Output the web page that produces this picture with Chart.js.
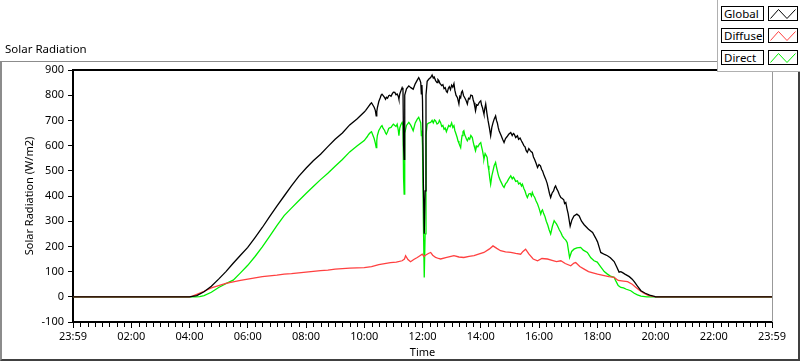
<!DOCTYPE html>
<html>
<head>
<meta charset="utf-8">
<script src="https://cdn.jsdelivr.net/npm/chart.js@4/dist/chart.umd.min.js"></script>
<style>
  html, body { margin: 0; padding: 0; background: #fff; }
  #wrap { position: relative; width: 800px; height: 361px; overflow: hidden; font-family: "Noto Sans", sans-serif; }
  #c { position: absolute; left: 0; top: 0; }
  #frame { position: absolute; left: 0; top: 61px; width: 800px; height: 300px; box-sizing: border-box;
           border-top: 1px solid #8c8c8c; border-left: 2px solid #8c8c8c; border-right: 2px solid #404040; border-bottom: 2px solid #404040; pointer-events: none; }
  #title { position: absolute; left: 5px; top: 41px; font-size: 11.5px; color: #000; }
  #legend { position: absolute; left: 717px; top: 0; width: 83px; height: 72px; background: #fff; box-sizing: border-box;
            border-left: 1px solid #b0b0b0; border-bottom: 1px solid #b0b0b0; }
  .lab { position: absolute; left: 3px; width: 43px; height: 15px; box-sizing: border-box; border: 1px solid #000;
         font-size: 11.5px; line-height: 13px; padding-left: 2px; color: #000; background: #fff; }
  .ico { position: absolute; left: 50px; width: 30px; height: 15px; box-sizing: border-box; border: 1px solid #000; background: #fff; }
  .ico svg { position: absolute; left: 0; top: 0; }
</style>
</head>
<body>
<div id="wrap">
  <canvas id="c" width="800" height="361"></canvas>
  <div id="frame"></div>
  <div id="title">Solar Radiation</div>
  <div id="legend"></div>
</div>
<script>
// ---- data (hours of day, W/m2) ----
const seriesNames = ['Global', 'Diffuse', 'Direct'];
const seriesColors = ['#000000', '#ff4040', '#00f000'];

const globalTimes = [0, 4.0, 4.25, 4.5, 4.75, 5.0, 5.25, 5.5, 5.75, 6.0, 6.25, 6.5, 6.75, 7.0, 7.25, 7.5, 7.75, 8.0, 8.25, 8.5, 8.75, 9.0, 9.25, 9.5, 9.75,
  10.0, 10.05, 10.1, 10.15, 10.21, 10.25, 10.3, 10.34, 10.38, 10.41, 10.43, 10.45, 10.5, 10.55, 10.58, 10.61, 10.65, 10.7, 10.73, 10.76, 10.8, 10.84, 10.87, 10.92, 10.96, 11.0, 11.05, 11.09, 11.13, 11.17, 11.19, 11.22, 11.26, 11.3, 11.33, 11.35, 11.37, 11.39,
  11.45, 11.53, 11.6, 11.68, 11.75, 11.82, 11.87, 11.91, 11.94, 11.96, 11.98, 12.0, 12.03, 12.06, 12.09, 12.12, 12.16, 12.22, 12.28,
  12.33, 12.37, 12.4, 12.45, 12.5, 12.53, 12.56, 12.6, 12.62, 12.66, 12.7, 12.74, 12.78, 12.82, 12.85, 12.89, 12.92, 12.96, 13.0, 13.04, 13.08, 13.11, 13.15, 13.2, 13.25, 13.28, 13.31, 13.34, 13.37, 13.41, 13.45, 13.5, 13.54, 13.58, 13.62, 13.66, 13.71, 13.74, 13.77, 13.8, 13.82, 13.86, 13.9, 13.95, 14.0, 14.03, 14.06, 14.09, 14.11, 14.14, 14.17, 14.21, 14.25, 14.3, 14.34, 14.38, 14.42, 14.46, 14.51, 14.54, 14.57, 14.6, 14.63, 14.67, 14.7, 14.75, 14.8, 14.85, 14.9, 14.96, 15.03, 15.08, 15.12, 15.15, 15.2, 15.26, 15.3, 15.35, 15.4, 15.43, 15.48, 15.52, 15.56, 15.6, 15.65, 15.7, 15.74, 15.77, 15.81, 15.85, 15.9, 15.95, 16.0, 16.05, 16.09, 16.12, 16.18, 16.23, 16.28, 16.32, 16.36, 16.4, 16.45, 16.5, 16.54, 16.57, 16.61, 16.65, 16.7, 16.75, 16.8, 16.85, 16.88, 16.92, 16.96,
  17.0, 17.07, 17.13, 17.2, 17.3, 17.38, 17.46, 17.55, 17.7, 17.84, 17.95, 18.01, 18.07, 18.12, 18.25, 18.35, 18.45, 18.58, 18.67, 18.75, 18.81, 18.87, 18.95, 19.1, 19.2, 19.27, 19.38, 19.5, 19.65, 19.8, 19.96, 20.0, 24.0];
const globalValues = [0, 0, 5, 20, 42, 70, 100, 133, 165, 196, 235, 275, 318, 360, 400, 440, 478, 510, 540, 566, 596, 625, 650, 682, 706,
  733, 740, 748, 756, 765, 770, 760, 752, 740, 718, 735, 750, 775, 790, 800, 804, 798, 790, 784, 792, 788, 798, 800, 796, 805, 812, 811, 802, 805, 795, 784, 805, 818, 830, 820, 600, 545, 800,
  825, 837, 830, 824, 845, 860, 870, 860, 850, 805, 840, 780, 450, 250, 420, 800, 855, 864, 870,
  880, 868, 872, 858, 850, 862, 858, 846, 844, 838, 842, 826, 830, 815, 811, 828, 834, 822, 840, 832, 846, 820, 800, 790, 765, 795, 790, 812, 817, 798, 790, 778, 765, 788, 785, 800, 798, 782, 770, 752, 738, 762, 760, 772, 778, 760, 750, 735, 725, 748, 765, 730, 700, 668, 639, 672, 690, 705, 718, 700, 690, 672, 659, 648, 640, 625, 612, 628, 635, 645, 652, 640, 648, 645, 632, 639, 625, 630, 618, 612, 600, 595, 580, 573, 588, 580, 575, 573, 555, 545, 530, 513, 525, 520, 505, 500, 480, 467, 450, 430, 410, 394, 412, 420, 435, 440, 428, 420, 405, 394, 390, 385, 370, 374, 350,
  330, 280, 305, 321, 328, 321, 300, 286, 268, 255, 232, 218, 195, 176, 168, 163, 155, 140, 118, 98, 100, 96, 90, 80, 70, 60, 42, 24, 14, 7, 2, 0, 0];

const diffuseTimes = [0, 4.0, 4.1, 4.25, 4.5, 4.75, 5.0, 5.25, 5.5, 5.75, 6.0, 6.25, 6.5, 6.75, 7.0, 7.25, 7.5, 7.75, 8.0, 8.25, 8.5, 8.75, 9.0, 9.25, 9.5, 9.75, 10.0, 10.25, 10.5, 10.7, 10.9, 11.1, 11.3, 11.38, 11.42, 11.5, 11.59, 11.7, 11.82, 11.9, 11.99, 12.05, 12.1, 12.2, 12.28, 12.35, 12.45, 12.55, 12.62, 12.8, 13.08, 13.25, 13.42, 13.6, 13.77, 13.95, 14.11, 14.3, 14.42, 14.55, 14.68, 14.85, 15.03, 15.2, 15.37, 15.45, 15.54, 15.65, 15.8, 15.95, 16.1, 16.29, 16.45, 16.6, 16.75, 16.9, 17.09, 17.2, 17.26, 17.4, 17.55, 17.7, 17.85, 18.01, 18.2, 18.4, 18.58, 18.72, 18.9, 19.04, 19.2, 19.32, 19.45, 19.6, 19.75, 19.9, 20.05, 24.0];
const diffuseValues = [0, 0, 3, 10, 22, 35, 44, 53, 59, 65, 70, 75, 80, 83, 86, 90, 92, 95, 98, 101, 104, 106, 110, 112, 114, 115, 116, 120, 128, 132, 136, 138, 143, 150, 163, 148, 139, 148, 156, 162, 169, 160, 165, 172, 176, 165, 156, 152, 150, 155, 163, 158, 156, 160, 163, 170, 176, 190, 202, 192, 183, 178, 176, 172, 169, 180, 189, 170, 150, 143, 152, 150, 145, 140, 143, 132, 123, 134, 136, 120, 110, 100, 95, 90, 85, 80, 77, 65, 62, 60, 50, 38, 26, 14, 6, 2, 0, 0];

const directTimes = [0, 4.0, 4.2, 4.35, 4.5, 4.75, 5.0, 5.25, 5.5, 5.75, 6.0, 6.25, 6.5, 6.75, 7.0, 7.25, 7.5, 7.75, 8.0, 8.25, 8.5, 8.75, 9.0, 9.25, 9.5, 9.75,
  10.0, 10.05, 10.1, 10.15, 10.21, 10.25, 10.3, 10.34, 10.38, 10.41, 10.43, 10.45, 10.5, 10.55, 10.58, 10.61, 10.65, 10.7, 10.73, 10.76, 10.8, 10.84, 10.87, 10.92, 10.96, 11.0, 11.05, 11.09, 11.13, 11.17, 11.19, 11.22, 11.26, 11.3, 11.33, 11.35, 11.37, 11.39,
  11.45, 11.53, 11.6, 11.68, 11.75, 11.82, 11.87, 11.91, 11.94, 11.96, 11.98, 12.0, 12.03, 12.06, 12.09, 12.12, 12.16, 12.22, 12.28,
  12.33, 12.37, 12.41, 12.45, 12.5, 12.55, 12.58, 12.62, 12.66, 12.7, 12.74, 12.78, 12.82, 12.85, 12.9, 12.95, 13.0, 13.04, 13.08, 13.11, 13.14, 13.19, 13.22, 13.25, 13.28, 13.31, 13.34, 13.36, 13.39, 13.42, 13.45, 13.48, 13.51, 13.54, 13.58, 13.62, 13.66, 13.71, 13.74, 13.77, 13.8, 13.82, 13.86, 13.9, 13.95, 14.0, 14.03, 14.06, 14.09, 14.11, 14.15, 14.19, 14.22, 14.25, 14.28, 14.31, 14.34, 14.38, 14.42, 14.46, 14.51, 14.54, 14.57, 14.6, 14.63, 14.67, 14.72, 14.76, 14.8, 14.85, 14.9, 14.96, 15.03, 15.08, 15.12, 15.15, 15.2, 15.26, 15.3, 15.35, 15.4, 15.43, 15.48, 15.52, 15.56, 15.6, 15.65, 15.7, 15.74, 15.77, 15.81, 15.85, 15.9, 15.95, 16.0, 16.06, 16.09, 16.12, 16.16, 16.2, 16.25, 16.3, 16.35, 16.4, 16.46, 16.52, 16.56, 16.6, 16.65, 16.7, 16.75, 16.8, 16.86, 16.92, 16.97, 17.01, 17.05,
  17.12, 17.2, 17.3, 17.43, 17.52, 17.66, 17.78, 17.89, 18.0, 18.1, 18.24, 18.35, 18.45, 18.58, 18.65, 18.72, 18.81, 18.9, 19.0, 19.15, 19.27, 19.38, 19.5, 19.7, 24.0];
const directValues = [0, 0, 0, 1, 5, 18, 37, 52, 66, 95, 125, 160, 198, 240, 282, 322, 352, 381, 410, 438, 465, 490, 518, 545, 575, 598,
  620, 628, 635, 644, 652, 655, 640, 628, 610, 592, 620, 640, 660, 670, 676, 679, 668, 660, 650, 645, 655, 668, 670, 672, 679, 685, 680, 676, 685, 660, 639, 670, 684, 692, 680, 470, 408, 650,
  680, 692, 680, 659, 690, 705, 712, 700, 690, 640, 660, 600, 300, 77, 250, 640, 685, 690, 692,
  700, 690, 702, 698, 686, 690, 700, 692, 676, 680, 665, 670, 655, 665, 680, 675, 690, 672, 679, 660, 650, 632, 618, 610, 600, 592, 625, 640, 655, 659, 642, 635, 625, 619, 630, 625, 640, 632, 615, 600, 588, 579, 598, 595, 606, 612, 595, 580, 560, 546, 568, 560, 553, 520, 500, 470, 447, 480, 500, 520, 533, 515, 500, 485, 473, 462, 450, 440, 434, 448, 455, 468, 480, 468, 475, 470, 458, 460, 448, 452, 440, 447, 430, 420, 405, 394, 408, 410, 400, 414, 402, 395, 380, 368, 352, 328, 340, 345, 330, 320, 300, 285, 265, 249, 280, 302, 295, 289, 278, 265, 255, 242, 232, 225, 215, 185, 156,
  180, 189, 194, 196, 185, 176, 155, 143, 138, 122, 100, 90, 82, 77, 60, 45, 37, 35, 30, 24, 14, 8, 3, 0, 0];

const xMajorTicks = [0, 2, 4, 6, 8, 10, 12, 14, 16, 18, 20, 22, 24];
const xTickLabels = ['23:59', '02:00', '04:00', '06:00', '08:00', '10:00', '12:00', '14:00', '16:00', '18:00', '20:00', '22:00', '23:59'];
const yMin = -100, yMax = 900, yStep = 100;

// ---- legend (HTML) ----
const legendEl = document.getElementById('legend');
seriesNames.forEach((name, i) => {
  const top = 6 + i * 22;
  const lab = document.createElement('div');
  lab.className = 'lab'; lab.style.top = top + 'px'; lab.textContent = name;
  const ico = document.createElement('div');
  ico.className = 'ico'; ico.style.top = top + 'px';
  ico.innerHTML = '<svg width="30" height="15"><polyline points="1.5,11.5 9.5,2.5 18,11.5 26.5,2.5" fill="none" stroke="' + seriesColors[i] + '" stroke-width="1"/></svg>';
  legendEl.appendChild(lab); legendEl.appendChild(ico);
});

function pairs(ts, vs) { return ts.map((t, i) => ({ x: t, y: vs[i] })); }

const FONT = { family: '"Noto Sans", sans-serif', size: 11 };

const plotFrame = {
  id: 'plotFrame',
  afterDraw(chart) {
    const { ctx, chartArea: a, scales } = chart;
    ctx.save();
    ctx.strokeStyle = '#000'; ctx.lineWidth = 2;
    ctx.beginPath(); ctx.moveTo(a.left - 1, a.top); ctx.lineTo(a.right, a.top); ctx.stroke();
    ctx.strokeStyle = '#999'; ctx.lineWidth = 1;
    ctx.beginPath(); ctx.moveTo(a.right + 0.5, a.top); ctx.lineTo(a.right + 0.5, a.bottom); ctx.stroke();
    const xs = scales.x;
    ctx.strokeStyle = '#000'; ctx.lineWidth = 1;
    ctx.beginPath();
    for (let q = 1; q < 96; q++) {
      if (q % 8 === 0) continue;
      const px = Math.round(xs.getPixelForValue(q / 4)) + 0.5;
      ctx.moveTo(px, a.bottom + 1); ctx.lineTo(px, a.bottom + 5);
    }
    ctx.stroke();
    ctx.restore();
  }
};

new Chart(document.getElementById('c'), {
  type: 'line',
  data: {
    datasets: [
      { label: seriesNames[0], data: pairs(globalTimes, globalValues), borderColor: seriesColors[0] },
      { label: seriesNames[1], data: pairs(diffuseTimes, diffuseValues), borderColor: seriesColors[1] },
      { label: seriesNames[2], data: pairs(directTimes, directValues), borderColor: seriesColors[2] }
    ]
  },
  options: {
    responsive: false,
    animation: false,
    devicePixelRatio: 1,
    elements: { line: { borderWidth: 1.3, tension: 0 }, point: { radius: 0 } },
    layout: { padding: { top: 70, right: 28, left: 0, bottom: 0 } },
    plugins: { legend: { display: false }, tooltip: { enabled: false }, title: { display: false } },
    scales: {
      x: {
        type: 'linear', min: 0, max: 24,
        afterBuildTicks(s) { s.ticks = xMajorTicks.map(v => ({ value: v })); },
        afterFit(s) { s.height = 39; },
        ticks: {
          autoSkip: false, maxRotation: 0, padding: 2, color: '#000', font: FONT,
          callback(v) { const i = xMajorTicks.indexOf(v); return i >= 0 ? xTickLabels[i] : ''; }
        },
        grid: { drawOnChartArea: false, tickLength: 6, tickColor: '#000', tickWidth: 1 },
        border: { color: '#000', width: 2 },
        title: { display: true, text: 'Time', color: '#000', font: FONT, padding: { top: 0, bottom: 2 } }
      },
      y: {
        min: yMin, max: yMax,
        afterFit(s) { s.width = 73; },
        ticks: { stepSize: yStep, padding: 4, color: '#000', font: FONT },
        grid: { drawOnChartArea: false, tickLength: 5, tickColor: '#000', tickWidth: 1 },
        border: { color: '#000', width: 2 },
        title: { display: true, text: 'Solar Radiation (W/m2)', color: '#000', font: FONT, padding: { top: 23 } }
      }
    }
  },
  plugins: [plotFrame]
});
</script>
</body>
</html>
